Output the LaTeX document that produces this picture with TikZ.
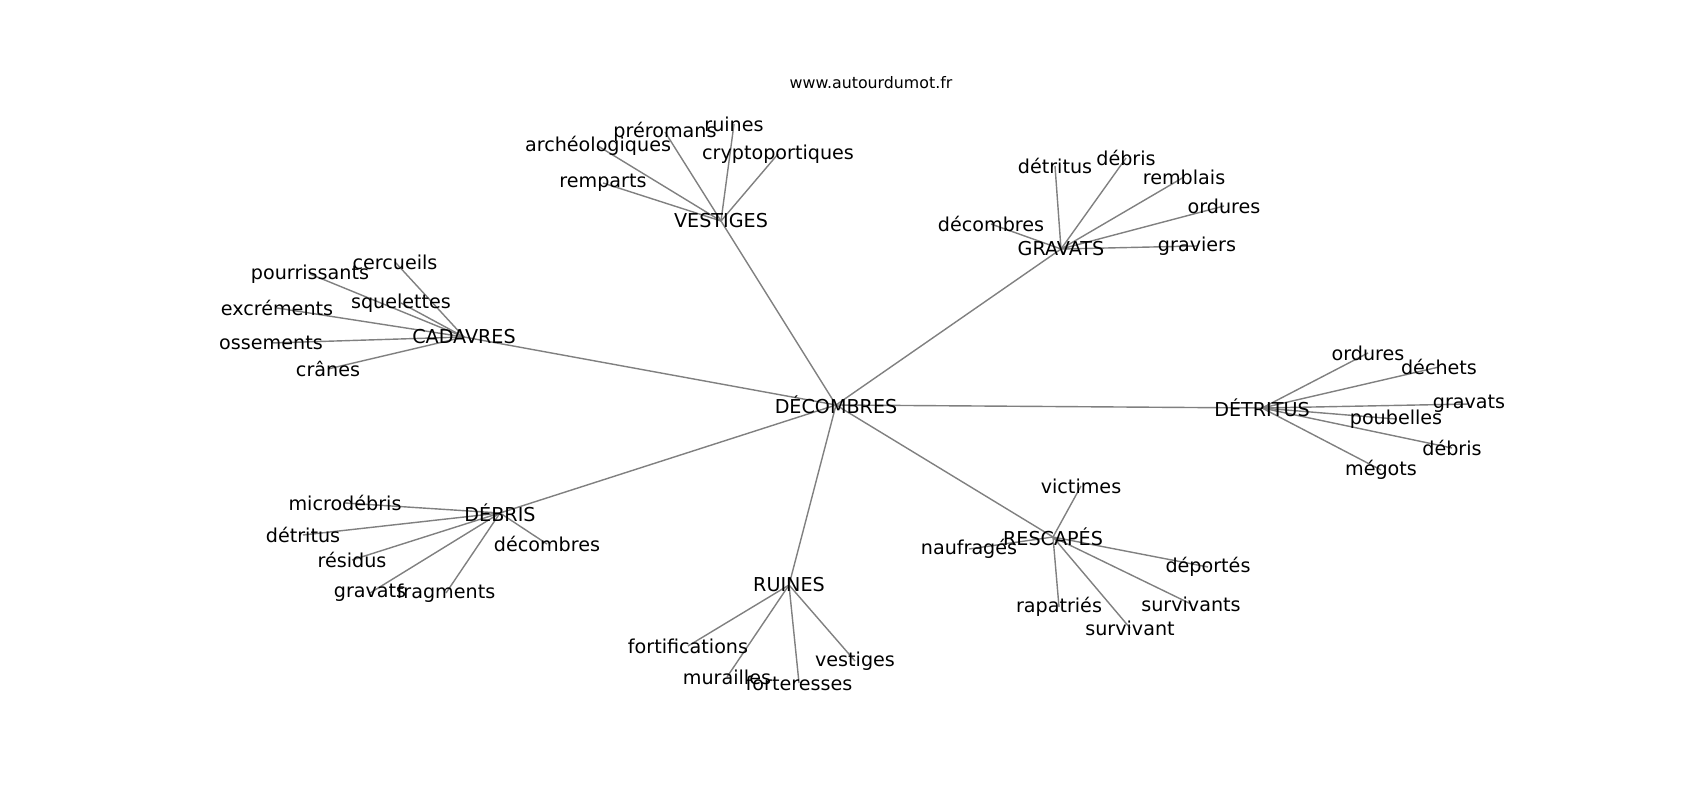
\documentclass[tikz,border=0pt]{standalone}
\usepackage{fontspec}
\setmainfont{DejaVu Sans}
\usepackage{tikz}
\usetikzlibrary{backgrounds}
\tikzstyle{word} = [inner sep=0pt, font=\fontsize{10.9}{13}\selectfont]
\tikzstyle{site} = [inner sep=0pt, font=\fontsize{9}{11}\selectfont]
\tikzstyle{link} = [line width=0.8pt, color=black!50, -]

\begin{document}
\begin{tikzpicture}[x=0.02cm, y=-0.02cm]
                                \useasboundingbox (0,0) rectangle (1700,800);
                                \node (www) [site] at (871,83) {www.autourdumot.fr};
                                \node (dec) [word] at (836,405) {DÉCOMBRES};
                                % VESTIGES
                                \node (ves) [word] at (721,221) {VESTIGES};
                                \node (v1) [word] at (734,124) {ruines};
                                \node (v2) [word] at (665,132) {préromans};
                                \node (v3) [word] at (598,146) {archéologiques};
                                \node (v4) [word] at (778,154) {cryptoportiques};
                                \node (v5) [word] at (603,183) {remparts};
                                % CADAVRES
                                \node (cad) [word] at (464,337) {CADAVRES};
                                \node (c1) [word] at (395,262) {cercueils};
                                \node (c2) [word] at (310,274) {pourrissants};
                                \node (c3) [word] at (401,303) {squelettes};
                                \node (c4) [word] at (277,308) {excréments};
                                \node (c5) [word] at (271,343) {ossements};
                                \node (c6) [word] at (328,369) {crânes};
                                % GRAVATS
                                \node (gra) [word] at (1061,249) {GRAVATS};
                                \node (g1) [word] at (1055,166) {détritus};
                                \node (g2) [word] at (1126,158) {débris};
                                \node (g3) [word] at (1184,177) {remblais};
                                \node (g4) [word] at (1224,206) {ordures};
                                \node (g5) [word] at (991,224) {décombres};
                                \node (g6) [word] at (1197,246) {graviers};
                                % DETRITUS
                                \node (det) [word] at (1262,408) {DÉTRITUS};
                                \node (t1) [word] at (1368,353) {ordures};
                                \node (t2) [word] at (1439,367) {déchets};
                                \node (t3) [word] at (1469,404) {gravats};
                                \node (t4) [word] at (1396,419) {poubelles};
                                \node (t5) [word] at (1452,448) {débris};
                                \node (t6) [word] at (1381,470) {mégots};
                                % RESCAPES
                                \node (res) [word] at (1053,537) {RESCAPÉS};
                                \node (r1) [word] at (1081,486) {victimes};
                                \node (r2) [word] at (969,549) {naufragés};
                                \node (r3) [word] at (1208,567) {déportés};
                                \node (r4) [word] at (1059,607) {rapatriés};
                                \node (r5) [word] at (1191,604) {survivants};
                                \node (r6) [word] at (1130,628) {survivant};
                                % RUINES
                                \node (rui) [word] at (789,585) {RUINES};
                                \node (u1) [word] at (688,646) {fortifications};
                                \node (u2) [word] at (727,677) {murailles};
                                \node (u3) [word] at (799,683) {forteresses};
                                \node (u4) [word] at (855,661) {vestiges};
                                % DEBRIS
                                \node (deb) [word] at (500,513) {DÉBRIS};
                                \node (d1) [word] at (345,503) {microdébris};
                                \node (d2) [word] at (303,535) {détritus};
                                \node (d3) [word] at (352,560) {résidus};
                                \node (d4) [word] at (547,544) {décombres};
                                \node (d5) [word] at (370,593) {gravats};
                                \node (d6) [word] at (446,593) {fragments};
                                \begin{scope}[on background layer]
                                \draw [link] (dec.center) -- (ves.center);
                                \draw [link] (dec.center) -- (cad.center);
                                \draw [link] (dec.center) -- (gra.center);
                                \draw [link] (dec.center) -- (det.center);
                                \draw [link] (dec.center) -- (res.center);
                                \draw [link] (dec.center) -- (rui.center);
                                \draw [link] (dec.center) -- (deb.center);
                                \draw [link] (ves.center) -- (v1.center);
                                \draw [link] (ves.center) -- (v2.center);
                                \draw [link] (ves.center) -- (v3.center);
                                \draw [link] (ves.center) -- (v4.center);
                                \draw [link] (ves.center) -- (v5.center);
                                \draw [link] (cad.center) -- (c1.center);
                                \draw [link] (cad.center) -- (c2.center);
                                \draw [link] (cad.center) -- (c3.center);
                                \draw [link] (cad.center) -- (c4.center);
                                \draw [link] (cad.center) -- (c5.center);
                                \draw [link] (cad.center) -- (c6.center);
                                \draw [link] (gra.center) -- (g1.center);
                                \draw [link] (gra.center) -- (g2.center);
                                \draw [link] (gra.center) -- (g3.center);
                                \draw [link] (gra.center) -- (g4.center);
                                \draw [link] (gra.center) -- (g5.center);
                                \draw [link] (gra.center) -- (g6.center);
                                \draw [link] (det.center) -- (t1.center);
                                \draw [link] (det.center) -- (t2.center);
                                \draw [link] (det.center) -- (t3.center);
                                \draw [link] (det.center) -- (t4.center);
                                \draw [link] (det.center) -- (t5.center);
                                \draw [link] (det.center) -- (t6.center);
                                \draw [link] (res.center) -- (r1.center);
                                \draw [link] (res.center) -- (r2.center);
                                \draw [link] (res.center) -- (r3.center);
                                \draw [link] (res.center) -- (r4.center);
                                \draw [link] (res.center) -- (r5.center);
                                \draw [link] (res.center) -- (r6.center);
                                \draw [link] (rui.center) -- (u1.center);
                                \draw [link] (rui.center) -- (u2.center);
                                \draw [link] (rui.center) -- (u3.center);
                                \draw [link] (rui.center) -- (u4.center);
                                \draw [link] (deb.center) -- (d1.center);
                                \draw [link] (deb.center) -- (d2.center);
                                \draw [link] (deb.center) -- (d3.center);
                                \draw [link] (deb.center) -- (d4.center);
                                \draw [link] (deb.center) -- (d5.center);
                                \draw [link] (deb.center) -- (d6.center);
                                \end{scope}
                            \end{tikzpicture}
\end{document}
